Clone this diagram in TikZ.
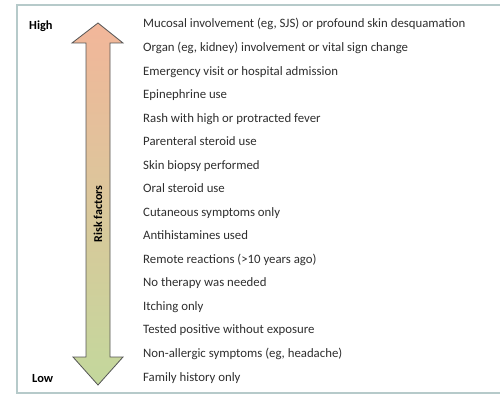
\documentclass[tikz,border=0pt]{standalone}
\usepackage{fontspec}
\setmainfont{Carlito}
\usepackage{xcolor}
\usepackage{tikz}
\usetikzlibrary{positioning, calc}

\definecolor{framegray}{HTML}{B6CACA}
\definecolor{textgray}{HTML}{2E2E2E}
\definecolor{highred}{HTML}{F2B69A}
\definecolor{midbeige}{HTML}{ECDDB6}
\definecolor{lowgreen}{HTML}{C3D89C}
\definecolor{arrowline}{HTML}{555555}

\tikzset{
  item/.style={anchor=base west, inner sep=0pt, text=textgray, font=\fontsize{12.8}{14}\selectfont},
  level/.style={anchor=base west, inner sep=0pt, text=black, font=\fontsize{12.4}{14}\selectfont\bfseries},
}

\begin{document}
\begin{tikzpicture}[x=1pt, y=-1pt]
    \useasboundingbox (0,0) rectangle (500,395);
    \draw[framegray, line width=1.4pt] (500,5) -- (17,5) -- (17,393) -- (500,393);

    % risk arrow
    \shade[top color=highred, middle color=midbeige, bottom color=lowgreen, draw=arrowline, line width=0.8pt, line join=miter]
      (98,23) -- (123,43) -- (110,43) -- (110,357) -- (123,357) -- (98,385)
      -- (73,357) -- (86,357) -- (86,43) -- (72,43) -- cycle;
    \node[rotate=90, inner sep=0pt, font=\fontsize{12}{13}\selectfont\bfseries] (rf) at (98,214) {Risk factors};

    \node[level] (high) at (29,30) {High};
    \node[level] (low) at (32,382) {Low};

    \node[item] (r1) at (143,28) {Mucosal involvement (eg, SJS) or profound skin desquamation};
    \node[item] (r2) at (143,51.5) {Organ (eg, kidney) involvement or vital sign change};
    \node[item] (r3) at (143,75.1) {Emergency visit or hospital admission};
    \node[item] (r4) at (143,98.6) {Epinephrine use};
    \node[item] (r5) at (143,122.1) {Rash with high or protracted fever};
    \node[item] (r6) at (143,145.7) {Parenteral steroid use};
    \node[item] (r7) at (143,169.2) {Skin biopsy performed};
    \node[item] (r8) at (143,192.7) {Oral steroid use};
    \node[item] (r9) at (143,216.2) {Cutaneous symptoms only};
    \node[item] (r10) at (143,239.8) {Antihistamines used};
    \node[item] (r11) at (143,263.3) {Remote reactions (>10 years ago)};
    \node[item] (r12) at (143,286.8) {No therapy was needed};
    \node[item] (r13) at (143,310.4) {Itching only};
    \node[item] (r14) at (143,333.9) {Tested positive without exposure};
    \node[item] (r15) at (143,357.4) {Non-allergic symptoms (eg, headache)};
    \node[item] (r16) at (143,381) {Family history only};
\end{tikzpicture}
\end{document}
